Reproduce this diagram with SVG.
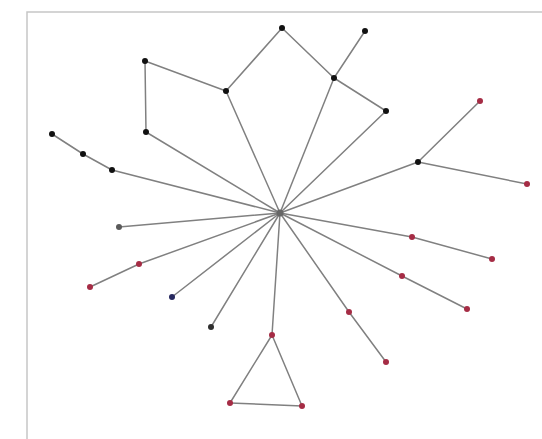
<svg xmlns="http://www.w3.org/2000/svg" width="542" height="439" viewBox="0 0 542 439">
<style>
.e{stroke:#808080;stroke-width:1.5;fill:none;stroke-linecap:round}
.b{fill:#111}
.r{fill:#a52c45}
.g{fill:#5a5a5a}
.u{fill:#26285e}
.d{fill:#2e2e2e}
</style>
<rect x="0" y="0" width="542" height="439" fill="#fff"/>
<rect id="frame" x="27" y="12" width="530" height="440" fill="none" stroke="#c6c6c6" stroke-width="1.5"/>
<g id="edges" class="e">
<line x1="280" y1="213" x2="112" y2="170"/>
<line x1="112" y1="170" x2="83" y2="154"/>
<line x1="83" y1="154" x2="52" y2="134"/>
<line x1="280" y1="213" x2="146" y2="132"/>
<line x1="146" y1="132" x2="145" y2="61"/>
<line x1="145" y1="61" x2="226" y2="91"/>
<line x1="280" y1="213" x2="226" y2="91"/>
<line x1="226" y1="91" x2="282" y2="28"/>
<line x1="282" y1="28" x2="334" y2="78"/>
<line x1="334" y1="78" x2="386" y2="111"/>
<line x1="280" y1="213" x2="334" y2="78"/>
<line x1="334" y1="78" x2="365" y2="31"/>
<line x1="280" y1="213" x2="386" y2="111"/>
<line x1="280" y1="213" x2="418" y2="162"/>
<line x1="418" y1="162" x2="480" y2="101"/>
<line x1="418" y1="162" x2="527" y2="184"/>
<line x1="280" y1="213" x2="412" y2="237"/>
<line x1="412" y1="237" x2="492" y2="259"/>
<line x1="280" y1="213" x2="402" y2="276"/>
<line x1="402" y1="276" x2="467" y2="309"/>
<line x1="280" y1="213" x2="349" y2="312"/>
<line x1="349" y1="312" x2="386" y2="362"/>
<line x1="280" y1="213" x2="272" y2="335"/>
<line x1="272" y1="335" x2="230" y2="403"/>
<line x1="272" y1="335" x2="302" y2="406"/>
<line x1="230" y1="403" x2="302" y2="406"/>
<line x1="280" y1="213" x2="211" y2="327"/>
<line x1="280" y1="213" x2="172" y2="297"/>
<line x1="280" y1="213" x2="139" y2="264"/>
<line x1="139" y1="264" x2="90" y2="287"/>
<line x1="280" y1="213" x2="119" y2="227"/>
</g>
<g id="n0"><circle cx="280" cy="213" r="3.5" fill="#666"/></g>
<g id="n1"><circle class="b" cx="112" cy="170" r="3"/></g>
<g id="n2"><circle class="b" cx="83" cy="154" r="3"/></g>
<g id="n3"><circle class="b" cx="52" cy="134" r="3"/></g>
<g id="n4"><circle class="b" cx="146" cy="132" r="3"/></g>
<g id="n5"><circle class="b" cx="145" cy="61" r="3"/></g>
<g id="n6"><circle class="b" cx="226" cy="91" r="3"/></g>
<g id="n7"><circle class="b" cx="282" cy="28" r="3"/></g>
<g id="n8"><circle class="b" cx="334" cy="78" r="3"/></g>
<g id="n9"><circle class="b" cx="365" cy="31" r="3"/></g>
<g id="n10"><circle class="b" cx="386" cy="111" r="3"/></g>
<g id="n11"><circle class="b" cx="418" cy="162" r="3"/></g>
<g id="n12"><circle class="r" cx="480" cy="101" r="3"/></g>
<g id="n13"><circle class="r" cx="527" cy="184" r="3"/></g>
<g id="n14"><circle class="r" cx="412" cy="237" r="3"/></g>
<g id="n15"><circle class="r" cx="492" cy="259" r="3"/></g>
<g id="n16"><circle class="r" cx="402" cy="276" r="3"/></g>
<g id="n17"><circle class="r" cx="467" cy="309" r="3"/></g>
<g id="n18"><circle class="r" cx="349" cy="312" r="3"/></g>
<g id="n19"><circle class="r" cx="386" cy="362" r="3"/></g>
<g id="n20"><circle class="r" cx="272" cy="335" r="3"/></g>
<g id="n21"><circle class="r" cx="230" cy="403" r="3"/></g>
<g id="n22"><circle class="r" cx="302" cy="406" r="3"/></g>
<g id="n23"><circle class="d" cx="211" cy="327" r="3"/></g>
<g id="n24"><circle class="u" cx="172" cy="297" r="3"/></g>
<g id="n25"><circle class="r" cx="139" cy="264" r="3"/></g>
<g id="n26"><circle class="r" cx="90" cy="287" r="3"/></g>
<g id="n27"><circle class="g" cx="119" cy="227" r="3"/></g>
</svg>
